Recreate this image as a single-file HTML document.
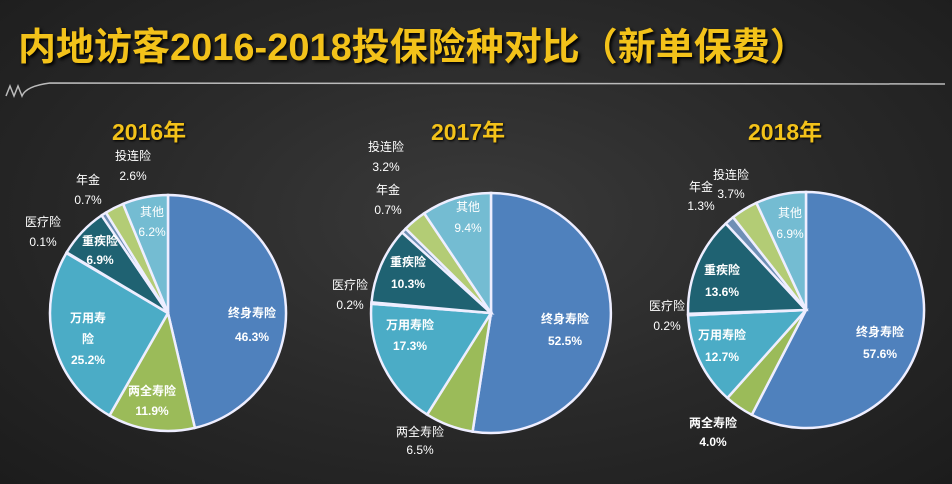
<!DOCTYPE html>
<html><head><meta charset="utf-8"><style>
html,body{margin:0;padding:0}
body{width:952px;height:484px;overflow:hidden;background:radial-gradient(ellipse at 50% 45%,#3a3a3a 0%,#2a2a2a 50%,#1c1c1c 100%);font-family:"Liberation Sans","Noto Sans CJK SC",sans-serif;position:relative}
.t{position:absolute;left:18px;top:16px;color:#f3c21a;font-weight:bold;font-size:38px;letter-spacing:0px;text-shadow:2px 2px 3px #000;white-space:nowrap}
.y{position:absolute;color:#f3c21a;font-weight:bold;font-size:23px;text-shadow:1px 1px 2px #000}
svg{position:absolute;left:0;top:0}
</style></head><body>
<div class="t">内地访客2016-2018投保险种对比（新单保费）</div>
<div class="y" style="left:112px;top:113px">2016年</div>
<div class="y" style="left:431px;top:113px">2017年</div>
<div class="y" style="left:748px;top:113px">2018年</div>
<svg id="s" width="952" height="484" font-family="Liberation Sans, Noto Sans CJK SC, sans-serif" font-size="12">
<path d="M6 96 L10 86 L14 96 L18 86 L22 96 Q26 86 50 83 L945 84" stroke="#bbb" stroke-width="1.5" fill="none"/>
<g id="p"></g>
<g fill="#fff" text-anchor="middle">
<text x="252" y="317" font-weight="bold">终身寿险</text><text x="252" y="341" font-weight="bold">46.3%</text>
<text x="152" y="395" font-weight="bold">两全寿险</text><text x="152" y="415" font-weight="bold">11.9%</text>
<text x="88" y="322" font-weight="bold">万用寿</text><text x="88" y="343" font-weight="bold">险</text><text x="88" y="364" font-weight="bold">25.2%</text>
<text x="100" y="245" font-weight="bold">重疾险</text><text x="100" y="264" font-weight="bold">6.9%</text>
<text x="152" y="216">其他</text><text x="152" y="236">6.2%</text>
<text x="43" y="226">医疗险</text><text x="43" y="246">0.1%</text>
<text x="88" y="184">年金</text><text x="88" y="204">0.7%</text>
<text x="133" y="160">投连险</text><text x="133" y="180">2.6%</text>
<text x="565" y="323" font-weight="bold">终身寿险</text><text x="565" y="345" font-weight="bold">52.5%</text>
<text x="420" y="436">两全寿险</text><text x="420" y="454">6.5%</text>
<text x="410" y="329" font-weight="bold">万用寿险</text><text x="410" y="350" font-weight="bold">17.3%</text>
<text x="408" y="266" font-weight="bold">重疾险</text><text x="408" y="288" font-weight="bold">10.3%</text>
<text x="468" y="211">其他</text><text x="468" y="232">9.4%</text>
<text x="350" y="289">医疗险</text><text x="350" y="309">0.2%</text>
<text x="388" y="194">年金</text><text x="388" y="214">0.7%</text>
<text x="386" y="151">投连险</text><text x="386" y="171">3.2%</text>
<text x="880" y="336" font-weight="bold">终身寿险</text><text x="880" y="358" font-weight="bold">57.6%</text>
<text x="713" y="427" font-weight="bold">两全寿险</text><text x="713" y="446" font-weight="bold">4.0%</text>
<text x="722" y="339" font-weight="bold">万用寿险</text><text x="722" y="361" font-weight="bold">12.7%</text>
<text x="722" y="274" font-weight="bold">重疾险</text><text x="722" y="296" font-weight="bold">13.6%</text>
<text x="790" y="217">其他</text><text x="790" y="238">6.9%</text>
<text x="667" y="310">医疗险</text><text x="667" y="330">0.2%</text>
<text x="701" y="191">年金</text><text x="701" y="210">1.3%</text>
<text x="731" y="179">投连险</text><text x="731" y="198">3.7%</text>
</g>
</svg>
<script>
var cols=["#4f81bd","#9bbb59","#4bacc6","#cfe3ea","#1f6272","#6f8fb5","#b3cc75","#74bcd2"];
var pies=[[168,313,118,[46.3,11.9,25.2,0.1,6.9,0.7,2.6,6.2]],[491,313,120,[52.5,6.5,17.3,0.2,10.3,0.7,3.2,9.4]],[806,310,118,[57.6,4.0,12.7,0.2,13.6,1.3,3.7,6.9]]];
var h="";
pies.forEach(function(p){var cx=p[0],cy=p[1],r=p[2],d=p[3],tot=d.reduce(function(a,b){return a+b},0),a=0;
d.forEach(function(v,i){var a0=a/tot*2*Math.PI,a1=(a+v)/tot*2*Math.PI;a+=v;
var x0=cx+r*Math.sin(a0),y0=cy-r*Math.cos(a0),x1=cx+r*Math.sin(a1),y1=cy-r*Math.cos(a1);
h+='<path d="M'+cx+' '+cy+' L'+x0.toFixed(1)+' '+y0.toFixed(1)+' A'+r+' '+r+' 0 '+((a1-a0)>Math.PI?1:0)+' 1 '+x1.toFixed(1)+' '+y1.toFixed(1)+' Z" fill="'+cols[i]+'" stroke="#eef" stroke-width="2.5"/>';});});
document.getElementById("p").innerHTML=h;
</script>
</body></html>
